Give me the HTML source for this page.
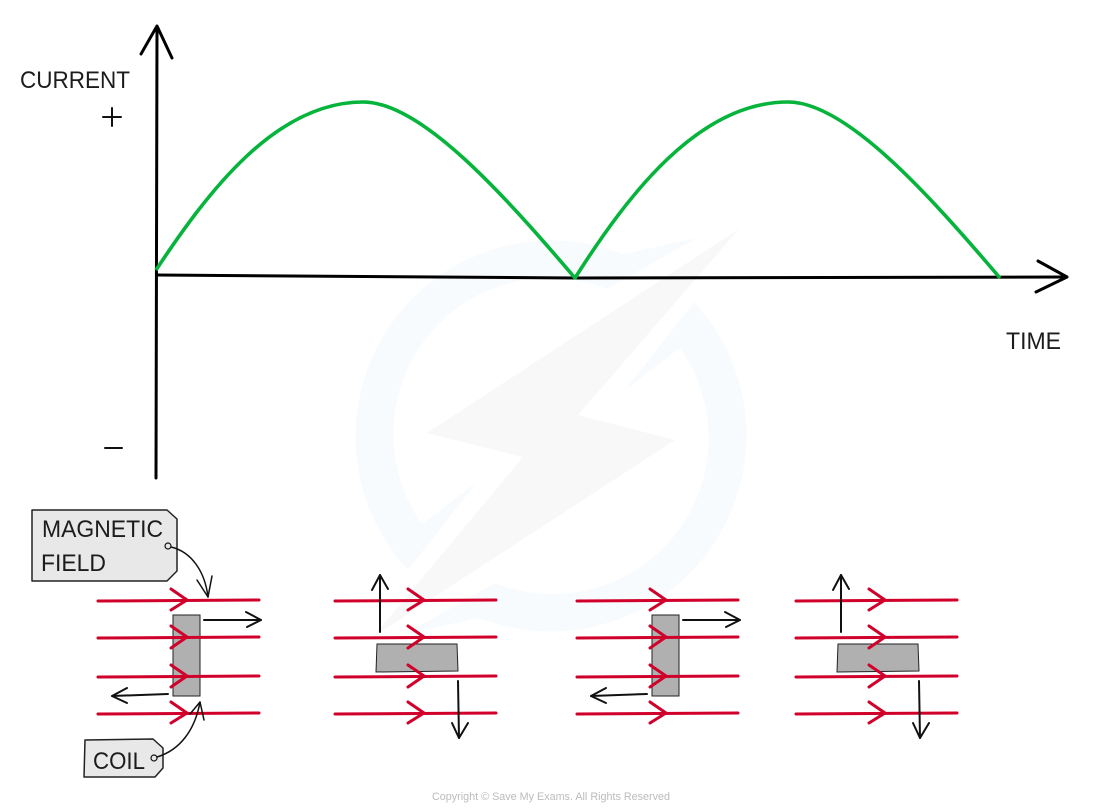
<!DOCTYPE html>
<html>
<head>
<meta charset="utf-8">
<style>
html,body{margin:0;padding:0;background:#fff;width:1100px;height:809px;overflow:hidden}
svg{display:block}
text{font-family:"Liberation Sans",sans-serif;fill:#1c1c1c}
</style>
</head>
<body>
<svg width="1100" height="809" viewBox="0 0 1100 809" xmlns="http://www.w3.org/2000/svg">
<defs>
<g id="field" fill="none" stroke="#d0002b" stroke-width="3" stroke-linecap="round" stroke-linejoin="round">
<path d="M0 601 L161 600"/>
<path d="M0 638 L161 637"/>
<path d="M0 677 L161 676"/>
<path d="M0 714 L161 713"/>
<path d="M73 589 L89 600 L73 610"/>
<path d="M73 626 L89 637 L73 648"/>
<path d="M73 665 L89 676 L73 687"/>
<path d="M73 702 L89 713 L73 723"/>
</g>
<g id="vert">
<rect x="173" y="615" width="27" height="81" fill="#b0b0b0" stroke="#222" stroke-width="1"/>
<use href="#field" x="98"/>
<g fill="none" stroke="#111" stroke-width="2" stroke-linecap="round" stroke-linejoin="round">
<path d="M204 620 L261 620"/>
<path d="M246 612 L261 620 L247 627"/>
<path d="M168 694 L112 696"/>
<path d="M127 688 L112 696 L127 703"/>
</g>
</g>
<g id="horiz">
<path d="M377 644 L457 644 L458 671 L376 672 Z" fill="#b0b0b0" stroke="#222" stroke-width="1"/>
<use href="#field" x="335"/>
<g fill="none" stroke="#111" stroke-width="2" stroke-linecap="round" stroke-linejoin="round">
<path d="M380 632 L380 575"/>
<path d="M372 590 L380 575 L388 589"/>
<path d="M458 681 L459 738"/>
<path d="M452 723 L459 738 L468 723"/>
</g>
</g>
</defs>

<!-- watermark -->
<path d="M408 570 A196 196 0 0 1 623 254 L697 238 L607 289 A156 156 0 0 0 422 524 L477 482 Z" fill="#f8fbfd"/>
<path d="M694 302 A196 196 0 0 1 479 618 L405 634 L495 583 A156 156 0 0 0 680 348 L625 390 Z" fill="#f8fbfd"/>
<path d="M739 229 L578 415 L675 440 L373 637 L523 457 L427 433 Z" fill="#f8f8f8"/>

<!-- axes -->
<g fill="none" stroke="#000" stroke-width="3" stroke-linecap="round" stroke-linejoin="round">
<path d="M157 27 L156 478"/>
<path d="M141 54 L157 26 L172 58"/>
<path d="M157 275 L575 278 L1066 277"/>
<path d="M1038 261 L1067 277 L1036 292"/>
</g>

<!-- curve -->
<path d="M156 270 C207 193 275 102 363 102 C420 102 500 190 575 278 C627 196 698 102 788 102 C845 102 925 190 1000 278" fill="none" stroke="#06b43c" stroke-width="3.6" stroke-linejoin="round"/>

<!-- axis labels -->
<text x="20" y="88" font-size="24" textLength="110" lengthAdjust="spacingAndGlyphs">CURRENT</text>
<text x="1006" y="349" font-size="24" textLength="55" lengthAdjust="spacingAndGlyphs">TIME</text>
<g fill="none" stroke="#111" stroke-width="2" stroke-linecap="round">
<path d="M103 117 L121 117"/>
<path d="M112 108 L112 126"/>
<path d="M105 448 L122 448"/>
</g>

<!-- panels -->
<use href="#vert"/>
<use href="#horiz"/>
<use href="#vert" x="479"/>
<use href="#horiz" x="461"/>

<!-- magnetic field tag -->
<path d="M32 510 L167 510 L177 519 L177 571 L167 581 L32 581 Z" fill="#e8e8e8" stroke="#222" stroke-width="1.5" stroke-linejoin="round"/>
<text x="42" y="537" font-size="24" textLength="121" lengthAdjust="spacingAndGlyphs">MAGNETIC</text>
<text x="41" y="571" font-size="24" textLength="65" lengthAdjust="spacingAndGlyphs">FIELD</text>
<circle cx="168" cy="546" r="3" fill="none" stroke="#111" stroke-width="1.2"/>
<g fill="none" stroke="#111" stroke-width="1.5" stroke-linecap="round" stroke-linejoin="round">
<path d="M171 547 C192 552 205 572 208 597"/>
<path d="M197 580 L208 597 L212 576"/>
</g>

<!-- coil tag -->
<path d="M85 740 L153 739 L163 748 L163 768 L155 777 L84 777 Z" fill="#e8e8e8" stroke="#222" stroke-width="1.5" stroke-linejoin="round"/>
<text x="93" y="769" font-size="24" textLength="52" lengthAdjust="spacingAndGlyphs">COIL</text>
<circle cx="154" cy="758" r="3" fill="none" stroke="#111" stroke-width="1.2"/>
<g fill="none" stroke="#111" stroke-width="1.5" stroke-linecap="round" stroke-linejoin="round">
<path d="M157 757 C180 750 195 730 200 702"/>
<path d="M190 714 L200 702 L204 720"/>
</g>

<!-- copyright -->
<text x="432" y="800" font-size="11" textLength="238" lengthAdjust="spacingAndGlyphs" style="fill:#bbbbbb">Copyright © Save My Exams. All Rights Reserved</text>
</svg>
</body>
</html>
